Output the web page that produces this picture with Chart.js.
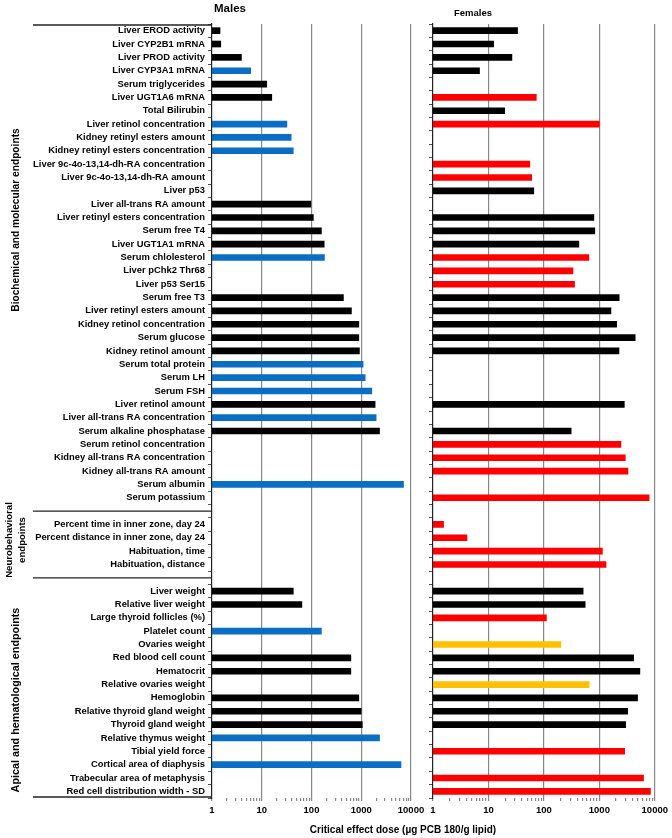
<!DOCTYPE html>
<html>
<head>
<meta charset="utf-8">
<script src="https://cdn.jsdelivr.net/npm/chart.js@4.4.1/dist/chart.umd.min.js"></script>
<style>
  body { margin: 0; background: #fff; font-family: "Liberation Sans", Arial, sans-serif; }
  #wrap { position: relative; width: 672px; height: 838px; overflow: hidden; background: #fff; }
  canvas { position: absolute; top: 0; }
  .t { position: absolute; font-weight: bold; color: #000; white-space: nowrap; transform: translate(-50%, -50%); }
  .rot { transform: translate(-50%, -50%) rotate(-90deg); text-align: center; }
</style>
</head>
<body>
<div id="wrap">
  <canvas id="males" width="432" height="838" style="left:0"></canvas>
  <canvas id="females" width="252" height="838" style="left:420px"></canvas>

  <div class="t" style="left:230px;top:8px;font-size:11.5px">Males</div>
  <div class="t" style="left:473px;top:12px;font-size:9.5px">Females</div>
  <div class="t rot" style="left:15px;top:220px;font-size:10.2px">Biochemical and molecular endpoints</div>
  <div class="t rot" style="left:15px;top:540px;font-size:9.6px;line-height:12.5px">Neurobehavioral<br>endpoints</div>
  <div class="t rot" style="left:15px;top:700px;font-size:10.8px">Apical and hematological endpoints</div>
  <div class="t" style="left:403px;top:829px;font-size:10px">Critical effect dose (µg PCB 180/g lipid)</div>
</div>

<script>
// ── Data ───────────────────────────────────────────────────────────
// k = black, b = blue, r = red, y = gold (bar class as in the figure)
const biochemLabels = [
  'Liver EROD activity', 'Liver CYP2B1 mRNA', 'Liver PROD activity', 'Liver CYP3A1 mRNA',
  'Serum triglycerides', 'Liver UGT1A6 mRNA', 'Total Bilirubin', 'Liver retinol concentration',
  'Kidney retinyl esters amount', 'Kidney retinyl esters concentration',
  'Liver 9c-4o-13,14-dh-RA concentration', 'Liver 9c-4o-13,14-dh-RA amount', 'Liver p53',
  'Liver all-trans RA amount', 'Liver retinyl esters concentration', 'Serum free T4',
  'Liver UGT1A1 mRNA', 'Serum chlolesterol', 'Liver pChk2 Thr68', 'Liver p53 Ser15',
  'Serum free T3', 'Liver retinyl esters amount', 'Kidney retinol concentration', 'Serum glucose',
  'Kidney retinol amount', 'Serum total protein', 'Serum LH', 'Serum FSH', 'Liver retinol amount',
  'Liver all-trans RA concentration', 'Serum alkaline phosphatase', 'Serum retinol concentration',
  'Kidney all-trans RA concentration', 'Kidney all-trans RA amount', 'Serum albumin', 'Serum potassium'
];
const neuroLabels = [
  'Percent time in inner zone, day 24', 'Percent distance in inner zone, day 24',
  'Habituation, time', 'Habituation, distance'
];
const apicalLabels = [
  'Liver weight', 'Relative liver weight', 'Large thyroid follicles (%)', 'Platelet count',
  'Ovaries weight', 'Red blood cell count', 'Hematocrit', 'Relative ovaries weight', 'Hemoglobin',
  'Relative thyroid gland weight', 'Thyroid gland weight', 'Relative thymus weight',
  'Tibial yield force', 'Cortical area of diaphysis', 'Trabecular area of metaphysis',
  'Red cell distribution width - SD'
];

const maleBiochem = [1.45, 1.5, 3.9, 6.0, 12.6, 15.9, null, 32, 39, 43, null, null, null,
  97, 109, 158, 180, 182, null, null, 438, 635, 893, 893, 920, 1090, 1200, 1630, 1900, 1990, 2330,
  null, null, null, 7070, null];
const maleBiochemCls = ['k','k','k','b','k','k','','b','b','b','','','',
  'k','k','k','k','b','','','k','k','k','k','k','b','b','b','k','b','k','','','','b',''];

const femaleBiochem = [33.5, 12.4, 26.5, 6.9, null, 73, 19.6, 1000, null, null, 55.7, 60.4, 65.7,
  null, 797, 828, 427, 647, 334, 357, 2280, 1620, 2050, 4430, 2260, null, null, null, 2820, null,
  310, 2450, 2940, 3280, null, 7910];
const femaleBiochemCls = ['k','k','k','k','','r','k','r','','','r','r','k',
  '','k','k','k','r','r','r','k','k','k','k','k','','','','k','','k','r','r','r','','r'];

const maleNeuro = [null, null, null, null];
const maleNeuroCls = ['', '', '', ''];
const femaleNeuro = [1.55, 4.1, 1135, 1320];
const femaleNeuroCls = ['r', 'r', 'r', 'r'];

const maleApical = [43, 64, null, 158, null, 618, 618, null, 893, 1000, 1050, 2330, null, 6300, null, null];
const maleApicalCls = ['k','k','','b','','k','k','','k','k','k','b','','b','',''];
const femaleApical = [510, 555, 111, null, 203, 4150, 5380, 655, 4890, 3240, 2980, null, 2860, null, 6270, 8340];
const femaleApicalCls = ['k','k','r','','y','k','k','y','k','k','k','','r','','r','r'];

const xTickValues = [1, 10, 100, 1000, 10000];

// ── Build ──────────────────────────────────────────────────────────
const PALETTE = { k: '#000000', b: '#0a6ec4', r: '#ff0000', y: '#ffc000', '': '#000000' };
const labels = [...biochemLabels, '', ...neuroLabels, '', ...apicalLabels];
const gapRows = [biochemLabels.length, biochemLabels.length + neuroLabels.length + 1];
const males = [...maleBiochem, null, ...maleNeuro, null, ...maleApical];
const malesCls = [...maleBiochemCls, '', ...maleNeuroCls, '', ...maleApicalCls];
const females = [...femaleBiochem, null, ...femaleNeuro, null, ...femaleApical];
const femalesCls = [...femaleBiochemCls, '', ...femaleNeuroCls, '', ...femaleApicalCls];

const FONT = '"Liberation Sans", Arial, sans-serif';
const isMajor = v => xTickValues.includes(v);

// separator lines in the label column
const separators = {
  id: 'separators',
  afterDraw(chart) {
    const { ctx, chartArea, scales: { y } } = chart;
    const rows = [chartArea.top + 1, ...gapRows.map(i => y.getPixelForValue(i)), chartArea.bottom - 1];
    ctx.save();
    ctx.strokeStyle = '#222';
    ctx.lineWidth = 1.3;
    rows.forEach(py => {
      ctx.beginPath();
      ctx.moveTo(33, py);
      ctx.lineTo(chartArea.left, py);
      ctx.stroke();
    });
    ctx.restore();
  }
};

function makeChart(id, data, cls, showLabels, yWidth, padRight) {
  return new Chart(document.getElementById(id).getContext('2d'), {
    type: 'bar',
    data: {
      labels,
      datasets: [{ data, backgroundColor: cls.map(c => PALETTE[c]), barThickness: 6 }]
    },
    options: {
      indexAxis: 'y',
      responsive: false, animation: false,
      layout: { padding: { top: 24, right: padRight, left: 0, bottom: 0 } },
      plugins: { legend: { display: false }, tooltip: { enabled: false } },
      scales: {
        x: {
          type: 'logarithmic', min: 1, max: 10000,
          afterFit: s => { s.height = 40; },
          afterBuildTicks: s => {
            s.ticks = s.ticks.filter(t => {
              const m = t.value / Math.pow(10, Math.floor(Math.log10(t.value) + 1e-9));
              return Math.abs(m - Math.round(m)) < 1e-6;
            });
          },
          border: { display: false },
          grid: {
            color: c => (c.tick && isMajor(c.tick.value) && c.tick.value !== 1) ? '#888' : 'rgba(0,0,0,0)',
            lineWidth: 1.2,
            tickColor: '#888',
            tickLength: 3
          },
          ticks: {
            autoSkip: false, maxRotation: 0, padding: 4, color: '#000',
            font: { family: FONT, size: 9.5, weight: 'bold' },
            callback: v => isMajor(v) ? String(v) : ''
          }
        },
        y: {
          afterFit: s => { s.width = yWidth; },
          border: { color: '#222', width: 1.2 },
          grid: { drawOnChartArea: false, tickLength: 4, color: '#555' },
          ticks: {
            display: showLabels, autoSkip: false, padding: 3, color: '#000',
            font: { family: FONT, size: 9.4, weight: 'bold' }
          }
        }
      }
    },
    plugins: showLabels ? [separators] : []
  });
}

makeChart('males', males, malesCls, true, 212, 21);
makeChart('females', females, femalesCls, false, 13, 16);
</script>
</body>
</html>
